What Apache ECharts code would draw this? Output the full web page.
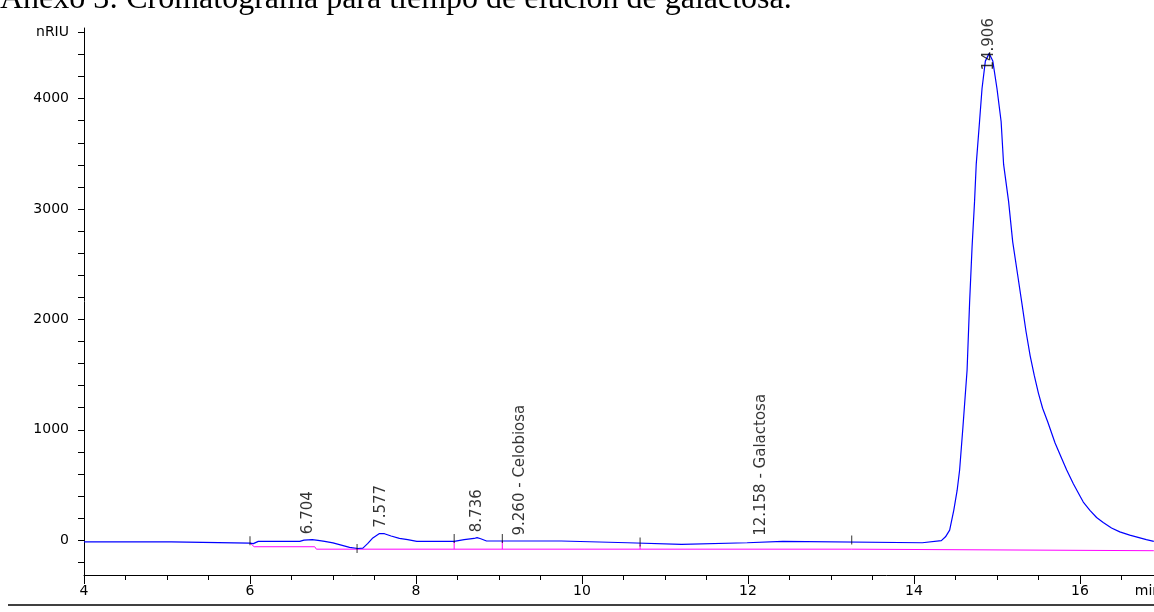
<!DOCTYPE html>
<html>
<head>
<meta charset="utf-8">
<script src="https://cdn.jsdelivr.net/npm/echarts@6/dist/echarts.min.js"></script>
<style>
html,body{margin:0;padding:0;background:#fff;}
#chart{width:1154px;height:612px;}
</style>
</head>
<body>
<div id="chart"></div>
<script>
// ---- data ----
const titleText = 'Anexo 3: Cromatograma para tiempo de elución de galactosa.';
const yUnit = 'nRIU';
const xUnit = 'min';

// Signal (blue)
const blueX = [4.00, 5.05, 5.07, 6.00, 6.04, 6.10, 6.60, 6.65, 6.75, 6.82, 6.90, 7.00, 7.10, 7.20, 7.30, 7.36, 7.42, 7.48, 7.56, 7.62, 7.70, 7.80, 7.90, 8.01, 8.46, 8.58, 8.70, 8.736, 8.78, 8.85, 9.75, 9.77, 10.55, 10.57, 11.20, 11.22, 11.99, 12.01, 12.42, 12.44, 14.10, 14.12, 14.33, 14.38, 14.43, 14.48, 14.52, 14.55, 14.59, 14.64, 14.67, 14.70, 14.73, 14.75, 14.79, 14.82, 14.86, 14.906, 14.95, 15.00, 15.05, 15.08, 15.14, 15.19, 15.25, 15.30, 15.35, 15.40, 15.45, 15.50, 15.55, 15.61, 15.70, 15.78, 15.84, 15.92, 16.00, 16.04, 16.12, 16.20, 16.28, 16.38, 16.48, 16.60, 16.70, 16.80, 16.89];
const blueY = [-15, -15, -27, -27, -32, -11, -11, 0, 4, -2, -12, -25, -45, -65, -76, -72, -30, 20, 60, 58, 37, 16, 5, -11, -11, 5, 15, 22, 12, -8, -8, -24, -24, -38, -38, -24, -24, -11, -11, -24, -24, -11, -5, 30, 91, 272, 450, 635, 1025, 1541, 2148, 2655, 3069, 3404, 3793, 4092, 4340, 4410, 4340, 4092, 3793, 3404, 3069, 2700, 2400, 2148, 1890, 1670, 1490, 1330, 1195, 1075, 880, 740, 635, 510, 400, 345, 270, 205, 160, 110, 75, 45, 25, 5, -12];

// Integration baseline (magenta)
const baseX = [6.00, 6.05, 6.78, 6.80, 13.25, 13.26, 16.89];
const baseY = [-26, -60, -60, -82, -82, -96, -96];

// Drop lines from signal to baseline
const dropX = [8.46, 9.04, 10.70];
const dropTop = [-8, -8, -40];
const dropBottom = [-82, -82, -82];

// Peak start/end markers
const markX = [6.00, 7.29, 8.46, 9.04, 10.70, 13.25];
const markY = [-5, -76, 15, 15, -17, 0];

// Peak annotations
const peakX = [6.704, 7.577, 8.736, 9.260, 12.158, 14.906];
const peakY = [4, 62, 22, -8, -11, 4410];
const peakText = ['6.704', '7.577', '8.736', '9.260 - Celobiosa', '12.158 - Galactosa', '14.906'];

// Axes
const xMin = 4, xMax = 16.892;
const yMin = -316, yMax = 4640;
const xLabelValues = [4, 6, 8, 10, 12, 14, 16];
const xUnitAt = 16.82;
const xMinorTicks = [4, 4.5, 5, 5.5, 6, 6.5, 7, 7.5, 8, 8.5, 9, 9.5, 10, 10.5, 11, 11.5, 12, 12.5, 13, 13.5, 14, 14.5, 15, 15.5, 16, 16.5];
const yLabelValues = [0, 1000, 2000, 3000, 4000];
const yUnitAt = 4600;
const yTicks = [-200, 0, 200, 400, 600, 800, 1000, 1200, 1400, 1600, 1800, 2000, 2200, 2400, 2600, 2800, 3000, 3200, 3400, 3600, 3800, 4000, 4200, 4400, 4600];

// ---- chart ----
const chart = echarts.init(document.getElementById('chart'), null, {renderer: 'canvas'});
const axisFont = {color: '#000', fontFamily: 'DejaVu Sans', fontSize: 14};
const labelCap = 4250; // keep the tallest peak's label inside the plot

const series = [];
series.push({
  type: 'line', name: 'baseline', xAxisIndex: 0,
  data: baseX.map((x, i) => [x, baseY[i]]),
  showSymbol: false, symbol: 'none',
  lineStyle: {color: '#ff00ff', width: 1},
  itemStyle: {color: '#ff00ff'},
  z: 2
});
dropX.forEach((x, i) => {
  series.push({
    type: 'line', xAxisIndex: 0,
    data: [[x, dropTop[i]], [x, dropBottom[i]]],
    showSymbol: false, symbol: 'none',
    lineStyle: {color: '#ff00ff', width: 1},
    z: 2
  });
});
series.push({
  type: 'line', name: 'signal', xAxisIndex: 0,
  data: blueX.map((x, i) => [x, blueY[i]]),
  showSymbol: false, symbol: 'none',
  lineStyle: {color: '#0000ff', width: 1.2},
  itemStyle: {color: '#0000ff'},
  z: 3
});
series.push({
  type: 'scatter', xAxisIndex: 0,
  data: markX.map((x, i) => [x, markY[i]]),
  symbol: 'rect', symbolSize: [1, 9],
  itemStyle: {color: '#000'},
  z: 4
});
series.push({
  type: 'scatter', xAxisIndex: 0,
  data: peakX.map((x, i) => ({
    value: [x, Math.min(peakY[i], labelCap)],
    label: {distance: peakY[i] > labelCap ? 0 : 5}
  })),
  symbolSize: 1,
  itemStyle: {color: 'rgba(0,0,0,0)'},
  label: {
    show: true,
    formatter: p => peakText[p.dataIndex],
    position: 'top',
    rotate: 90,
    align: 'left',
    verticalAlign: 'middle',
    color: '#000',
    fontFamily: 'DejaVu Sans',
    fontSize: 15
  },
  z: 5
});

chart.setOption({
  animation: false,
  backgroundColor: '#fff',
  title: {
    text: titleText,
    left: 0, top: -16, padding: 0,
    textStyle: {fontFamily: 'Liberation Serif', fontSize: 32, fontWeight: 'normal', color: '#000'}
  },
  grid: {left: 84, right: 0, top: 28, bottom: 37, containLabel: false, outerBoundsMode: 'none'},
  xAxis: [{
    type: 'value', min: xMin, max: xMax, position: 'bottom',
    axisLine: {show: true, onZero: false, lineStyle: {color: '#000', width: 1}},
    axisTick: {show: true, inside: false, length: 9, customValues: xLabelValues, lineStyle: {color: '#000'}},
    axisLabel: {show: true, margin: 9, customValues: xLabelValues.concat([xUnitAt]),
      formatter: v => (v === xUnitAt ? xUnit : String(v)), ...axisFont},
    splitLine: {show: false}
  }, {
    type: 'value', min: xMin, max: xMax, position: 'bottom', offset: 0,
    axisLine: {show: false, onZero: false},
    axisTick: {show: true, inside: false, length: 5, customValues: xMinorTicks, lineStyle: {color: '#000'}},
    axisLabel: {show: false},
    splitLine: {show: false}
  }],
  yAxis: {
    type: 'value', min: yMin, max: yMax,
    axisLine: {show: true, lineStyle: {color: '#000', width: 1}},
    axisTick: {show: true, inside: false, length: 6, customValues: yTicks, lineStyle: {color: '#000'}},
    axisLabel: {show: true, margin: 15, customValues: yLabelValues.concat([yUnitAt]),
      formatter: v => (v === yUnitAt ? yUnit : String(v)), ...axisFont},
    splitLine: {show: false}
  },
  graphic: [{
    type: 'line', silent: true,
    shape: {x1: 8, y1: 605, x2: 1154, y2: 605},
    style: {stroke: '#000', lineWidth: 1.5}
  }],
  series: series
});
</script>
</body>
</html>
